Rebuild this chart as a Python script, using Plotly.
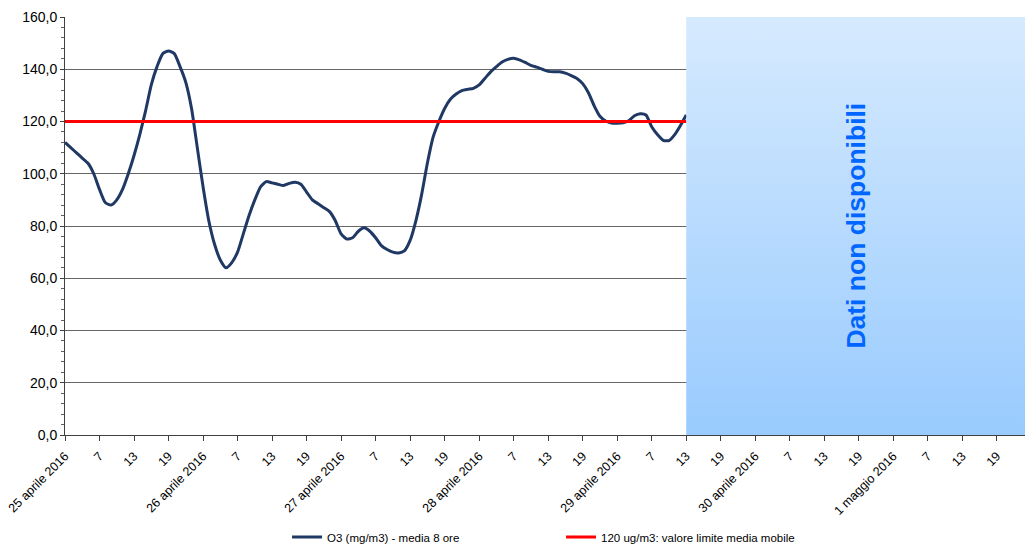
import plotly.graph_objects as go

# ---- data (hourly, starting 25 aprile 2016 00h) ----
hours = list(range(0, 109))
o3_values = [
    112, 110, 108, 106, 104, 100, 94, 89, 88, 90,
    94, 100, 107, 115, 124, 134, 141, 146, 147, 146,
    141, 135, 125, 110, 95, 82, 73, 67, 64, 66,
    70, 77, 84, 90, 95, 97, 96.5, 96, 95.5, 96.3,
    96.7, 96, 93, 90, 88.5, 87, 85.5, 82, 77, 75,
    75.5, 78, 79.3, 78, 75.5, 72.5, 71, 70, 69.7, 70.5,
    74.5, 82, 92, 104, 114, 120, 125, 128.5, 130.5, 131.8,
    132.3, 132.7, 134, 136.5, 139, 141, 142.8, 143.8, 144.2, 143.6,
    142.6, 141.5, 140.8, 140, 139.2, 139, 139, 138.5, 137.6, 136.5,
    134.5, 131, 126, 122, 120.2, 119.4, 119.3, 119.5, 120.3, 122.2,
    123, 122.5, 118, 115, 112.8, 112.7, 115, 118.5, 122.5,
]
limit_value = 120
limit_values = [limit_value for _ in hours]

day_labels = ["25 aprile 2016", "26 aprile 2016", "27 aprile 2016", "28 aprile 2016",
              "29 aprile 2016", "30 aprile 2016", "1 maggio 2016"]
hour_labels = ["7", "13", "19"]

nd_start, nd_end = 108, 168   # "Dati non disponibili" region (hours)
y_min, y_max = 0, 160
x_max = 166.9

tick_vals = []
tick_text = []
for d, lab in enumerate(day_labels):
    tick_vals.append(d * 24)
    tick_text.append(lab)
    for k, hl in enumerate(hour_labels):
        tick_vals.append(d * 24 + (k + 1) * 6)
        tick_text.append(hl)

font_family = "Liberation Sans, Arial, sans-serif"

fig = go.Figure()

fig.add_trace(go.Scatter(
    x=hours, y=o3_values, mode="lines",
    name="O3 (mg/m3) - media 8 ore",
    line=dict(color="#1F3864", width=3, shape="spline", smoothing=0.6),
))
fig.add_trace(go.Scatter(
    x=hours, y=limit_values, mode="lines",
    name="120 ug/m3: valore limite media mobile",
    line=dict(color="#FF0000", width=3),
))
fig.add_trace(go.Scatter(
    x=[nd_start, nd_end, nd_end, nd_start, nd_start],
    y=[y_min, y_min, y_max, y_max, y_min],
    mode="lines", fill="toself", line=dict(width=0),
    fillgradient=dict(type="vertical",
                      colorscale=[[0, "#99CBFE"], [1, "#D6EAFE"]]),
    showlegend=False, hoverinfo="skip",
))

fig.add_annotation(
    x=(nd_start + x_max) / 2, y=(y_min + y_max) / 2,
    text="<b>Dati non disponibili</b>", textangle=-90, showarrow=False,
    font=dict(family=font_family, size=26.5, color="#0066FF"),
)

fig.update_layout(
    width=1025, height=545,
    margin=dict(l=65, r=0, t=17, b=110),
    paper_bgcolor="white", plot_bgcolor="white",
    separators=", ",
    font=dict(family=font_family, size=12, color="#000000"),
    showlegend=True,
    legend=dict(orientation="h", x=0.2313, xanchor="left",
                yref="container", y=1 - 537 / 545, yanchor="middle",
                font=dict(size=11.5), entrywidth=229, entrywidthmode="pixels",
                bgcolor="rgba(0,0,0,0)"),
)

fig.update_xaxes(
    range=[0, x_max], tickmode="array", tickvals=tick_vals, ticktext=tick_text,
    tickangle=-45, ticks="outside", ticklen=5, tickcolor="#404040",
    ticklabelstandoff=3,
    showline=True, linecolor="#404040", linewidth=1,
    showgrid=False, zeroline=False, layer="below traces", automargin=False,
    tickfont=dict(size=12.5),
)
fig.update_yaxes(
    range=[y_min, y_max], tick0=0, dtick=20, tickformat=".1f",
    ticks="outside", ticklen=4, tickcolor="#404040",
    ticklabelstandoff=0,
    minor=dict(dtick=4, ticks="outside", ticklen=3, tickcolor="#606060", showgrid=False),
    showline=True, linecolor="#404040", linewidth=1,
    showgrid=True, gridcolor="#666666", gridwidth=1,
    zeroline=False, layer="below traces", automargin=False,
    tickfont=dict(size=14),
)

fig.write_html("out.html", config={"displayModeBar": False},
               post_script="document.body.style.margin='0px';")
